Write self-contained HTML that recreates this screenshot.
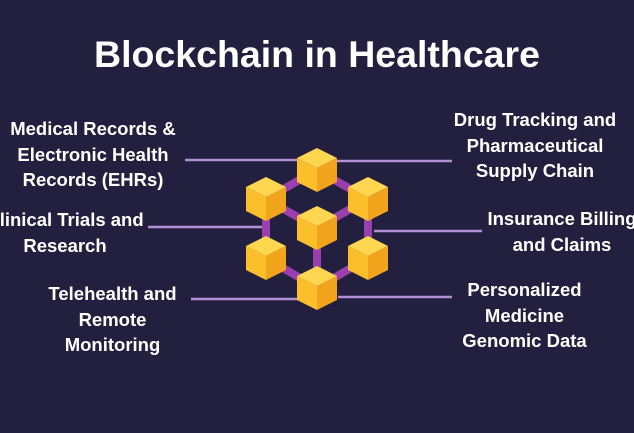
<!DOCTYPE html>
<html><head><style>
body{margin:0;width:634px;height:433px;background:#221f3f;overflow:hidden;position:relative;font-family:"Liberation Sans",sans-serif;color:#fff}
.t{position:absolute;font-weight:bold;font-size:18.5px;line-height:25.5px;text-align:center;white-space:nowrap}
</style></head><body>
<div class="t" style="left:0;width:634px;top:32px;font-size:37.5px;line-height:44px">Blockchain in Healthcare</div>
<div class="t" style="left:0;width:186px;top:116px">Medical Records &amp;<br>Electronic Health<br>Records (EHRs)</div>
<div class="t" style="left:-20px;width:170px;top:207px">Clinical Trials and<br>Research</div>
<div class="t" style="left:25px;width:175px;top:281px">Telehealth and<br>Remote<br>Monitoring</div>
<div class="t" style="left:445px;width:180px;top:107px">Drug Tracking and<br>Pharmaceutical<br>Supply Chain</div>
<div class="t" style="left:472px;width:180px;top:206px">Insurance Billing<br>and Claims</div>
<div class="t" style="left:447px;width:155px;top:277px">Personalized<br>Medicine<br>Genomic Data</div>
<svg width="634" height="433" style="position:absolute;left:0;top:0">
<g stroke="#b48fd8" stroke-width="2.5">
<line x1="185" y1="160" x2="300" y2="160"/><line x1="335" y1="161" x2="452" y2="161"/>
<line x1="148" y1="227" x2="262" y2="227"/><line x1="374" y1="231" x2="482" y2="231"/>
<line x1="191" y1="299" x2="305" y2="299"/><line x1="338" y1="297" x2="452" y2="297"/>
</g>
<g stroke="#9a3fae" stroke-width="8" fill="none">
<polygon points="317,170 368,199 368,258 317,288 266,258 266,199"/>
<line x1="317" y1="228" x2="266" y2="199"/><line x1="317" y1="228" x2="368" y2="199"/><line x1="317" y1="228" x2="317" y2="288"/>
</g>
<defs><g id="c">
<polygon points="0,-22 20,-12 0,-2 -20,-12" fill="#ffd650"/>
<polygon points="-20,-12 0,-2 0,22 -20,12" fill="#fbbf2c"/>
<polygon points="20,-12 0,-2 0,22 20,12" fill="#f2a51c"/>
</g></defs>
<use href="#c" x="317" y="170"/><use href="#c" x="266" y="199"/><use href="#c" x="368" y="199"/>
<use href="#c" x="317" y="228"/><use href="#c" x="266" y="258"/><use href="#c" x="368" y="258"/>
<use href="#c" x="317" y="288"/>
</svg>
</body></html>
